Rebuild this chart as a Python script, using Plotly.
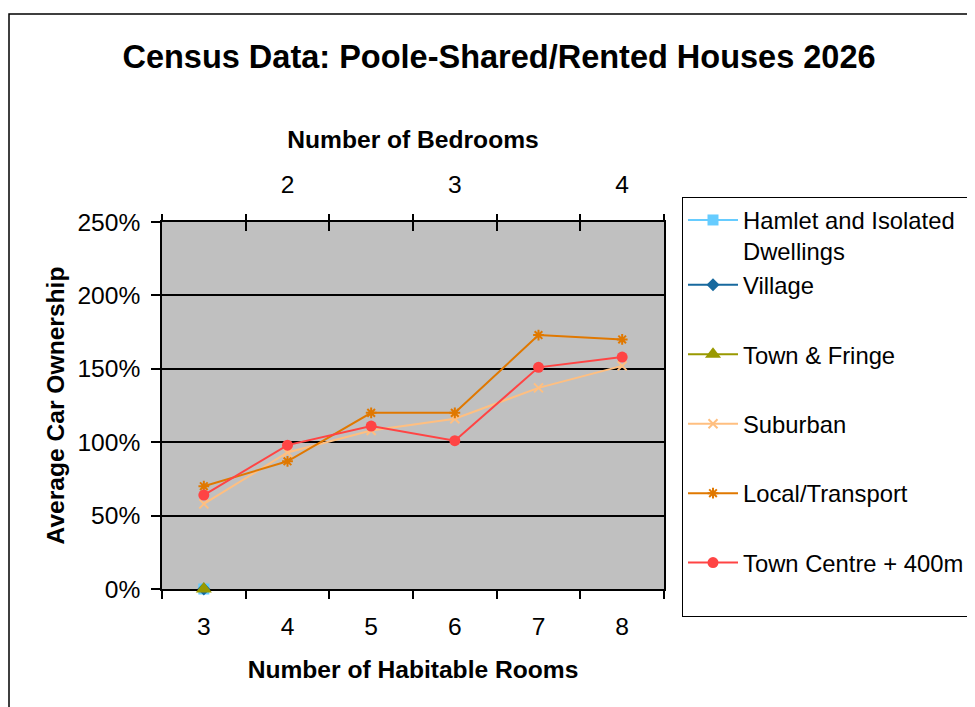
import plotly.graph_objects as go

# ---------------- data ----------------
rooms = ["3", "4", "5", "6", "7", "8"]
bedroom_pos = [1, 3, 5]
bedroom_labels = ["2", "3", "4"]

hamlet = [0.0, None, None, None, None, None]
village = [0.0, None, None, None, None, None]
town_fringe = [0.0, None, None, None, None, None]
suburban = [0.58, 0.93, 1.08, 1.16, 1.37, 1.52]
local_transport = [0.70, 0.87, 1.20, 1.20, 1.73, 1.70]
town_centre = [0.64, 0.98, 1.11, 1.01, 1.51, 1.58]

y_ticks = [0, 0.5, 1.0, 1.5, 2.0, 2.5]

FONT = "Arial, Liberation Sans, sans-serif"
FS = 24.6
LEG_FS = 23.8

series = [
    ("Hamlet and Isolated<br>Dwellings", hamlet, "#66CCFF", "square", 11, "g0"),
    ("Village", village, "#17699E", "diamond", 10, "g0"),
    ("Town & Fringe", town_fringe, "#999900", "triangle-up", 14, "g2"),
    ("Suburban", suburban, "#FFBF80", "x-thin-open", 9, "g3"),
    ("Local/Transport", local_transport, "#E07800", "asterisk-open", 9, "g4"),
    ("Town Centre + 400m<br> ", town_centre, "#FF4444", "circle", 11, "g5"),
]

fig = go.Figure()
for name, vals, color, sym, size, grp in series:
    fig.add_trace(go.Scatter(
        x=rooms, y=vals, name=name, mode="lines+markers",
        legendgroup=grp,
        line=dict(color=color, width=2),
        marker=dict(symbol=sym, size=size, color=color,
                    line=dict(color=color, width=2 if "open" in sym else 0)),
        cliponaxis=False,
        connectgaps=False,
    ))

# helper traces so the top (bedroom) axes are created
fig.add_trace(go.Scatter(x=bedroom_pos, y=[None] * 3, xaxis="x2", yaxis="y",
                         showlegend=False, hoverinfo="skip", mode="markers"))
fig.add_trace(go.Scatter(x=bedroom_pos, y=[None] * 3, xaxis="x3", yaxis="y",
                         showlegend=False, hoverinfo="skip", mode="markers"))

# figure sits at (8,8) in the page; plot area 154..656 x 214..581 in figure px
W, H = 975, 707
L, T, PW, PH = 154, 214, 502, 367

fig.update_layout(
    width=W, height=H,
    margin=dict(l=L, r=W - L - PW, t=T, b=H - T - PH, autoexpand=False),
    paper_bgcolor="white",
    plot_bgcolor="#C0C0C0",
    font=dict(family=FONT, size=FS, color="black"),
    title=dict(text="<b>Census Data: Poole-Shared/Rented Houses 2026</b>",
               font=dict(size=32.5, family=FONT, color="black"),
               x=491 / W, xanchor="center", xref="container",
               y=1 - 49 / H, yanchor="middle", yref="container"),
    showlegend=True,
    legend=dict(
        x=(682 - 162) / PW, xanchor="left",
        y=(589 - 197) / PH, yanchor="top",
        bgcolor="white", bordercolor="black", borderwidth=1,
        font=dict(size=LEG_FS, family=FONT, color="black"),
        tracegroupgap=35.5,
        itemwidth=50,
        valign="top",
        maxheight=600,
    ),
    xaxis=dict(
        type="category", categoryorder="array", categoryarray=rooms,
        range=[-0.5, len(rooms) - 0.5],
        tickson="boundaries", ticks="outside", ticklen=8, tickwidth=1.5,
        tickcolor="black",
        showline=True, linecolor="black", linewidth=1.5, mirror=False,
        showgrid=False, zeroline=False, layer="below traces",
        tickfont=dict(size=FS, family=FONT),
        ticklabelstandoff=15,
        title=dict(text="<b>Number of Habitable Rooms</b>",
                   font=dict(size=FS, family=FONT), standoff=22),
        automargin=False,
    ),
    yaxis=dict(
        range=[0, 2.5], tickvals=y_ticks, tickformat=".0%",
        ticks="outside", ticklen=9, tickwidth=1.5, tickcolor="black",
        showline=True, linecolor="black", linewidth=1.5, mirror=True,
        showgrid=True, gridcolor="black", gridwidth=1.5, zeroline=False,
        layer="below traces",
        tickfont=dict(size=FS, family=FONT),
        ticklabelstandoff=6,
        title=dict(text="<b>Average Car Ownership</b>",
                   font=dict(size=FS, family=FONT), standoff=6),
        automargin=False,
    ),
)

boundaries = [-0.5, 0.5, 1.5, 2.5, 3.5, 4.5, 5.5]
fig.update_layout(
    xaxis2=dict(
        overlaying="x", side="top", anchor="y",
        range=[-0.5, 5.5], tickvals=bedroom_pos, ticktext=bedroom_labels,
        ticks="", showgrid=False, zeroline=False,
        showline=True, linecolor="black", linewidth=1.5,
        tickfont=dict(size=FS, family=FONT),
        ticklabelstandoff=17,
        minor=dict(tickvals=boundaries, ticks="outside", ticklen=6,
                   tickwidth=1.5, tickcolor="black", showgrid=False),
        title=dict(text="<b>Number of Bedrooms</b>",
                   font=dict(size=FS, family=FONT), standoff=16),
        automargin=False,
    ),
    xaxis3=dict(
        overlaying="x", side="top", anchor="y",
        range=[-0.5, 5.5], tickvals=boundaries, ticks="inside", ticklen=9,
        tickwidth=1.5, tickcolor="black", showticklabels=False,
        showgrid=False, zeroline=False, showline=False, automargin=False,
    ),
)

# outer chart-area border
fig.add_shape(type="rect", xref="paper", yref="paper",
              x0=(1 - L) / PW, x1=2.0,
              y0=-1.0, y1=(T + PH - 6) / PH,
              line=dict(color="black", width=1.5), fillcolor="rgba(0,0,0,0)",
              layer="below")

fig.write_html("out.html")
